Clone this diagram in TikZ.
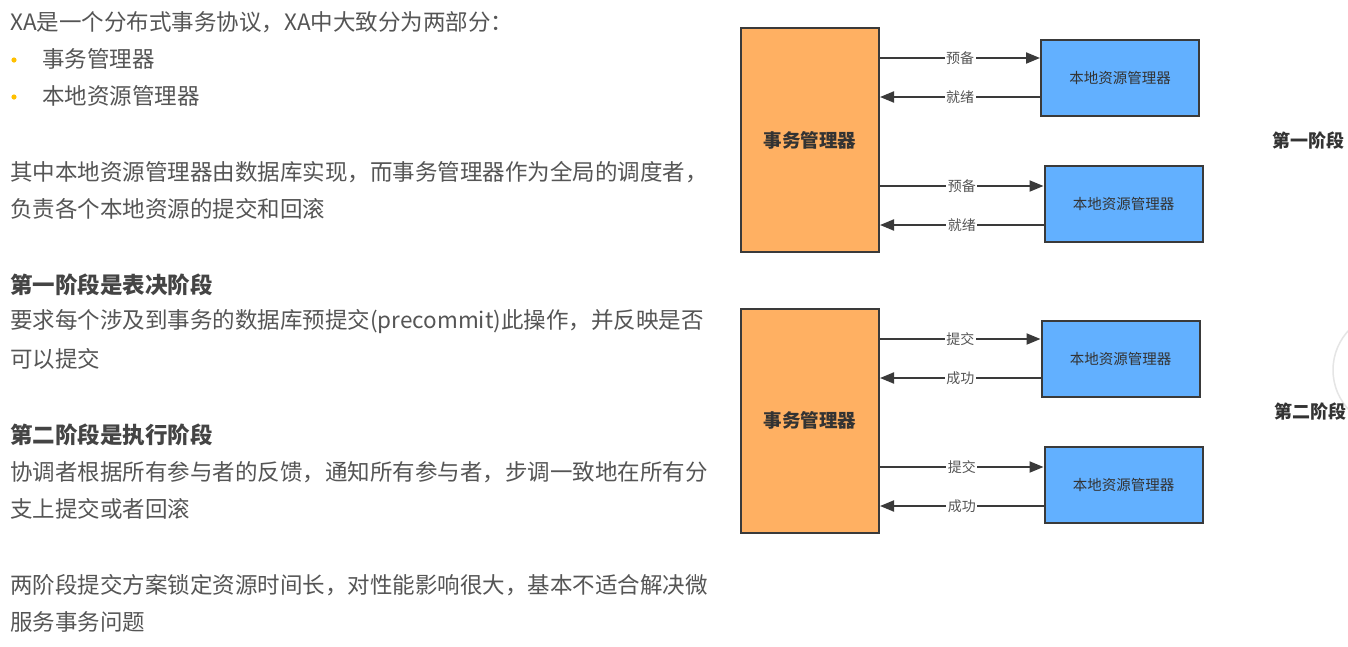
\documentclass[tikz,border=0pt]{standalone}
\usepackage{fontspec}
\setmainfont{Noto Sans CJK SC}
\usetikzlibrary{arrows.meta, positioning}
\definecolor{xatext}{RGB}{85,85,85}
\definecolor{xahead}{RGB}{68,68,68}
\definecolor{xadark}{RGB}{51,51,51}
\definecolor{xaborder}{RGB}{58,58,58}
\definecolor{xaorange}{RGB}{255,176,98}
\definecolor{xablue}{RGB}{98,176,255}
\definecolor{xabullet}{RGB}{255,192,0}
\tikzset{
  xaline/.style={anchor=west, inner sep=0pt, text=xatext,
                 font=\fontsize{22.5}{26}\selectfont},
  xahead/.style={xaline, text=xahead, font=\fontsize{22.5}{26}\selectfont\bfseries},
  tmbox/.style={rectangle, draw=xaborder, line width=2pt, fill=xaorange,
                minimum width=138pt, minimum height=224pt, text=xadark,
                font=\fontsize{18.5}{22}\selectfont\bfseries},
  rmbox/.style={rectangle, draw=xaborder, line width=2pt, fill=xablue,
                minimum width=158pt, minimum height=76pt, text=xadark,
                font=\fontsize{14.5}{17}\selectfont},
  msgarrow/.style={-{Triangle[length=14pt,width=11pt]}, line width=2pt, draw=xaborder},
  msglabel/.style={fill=white, inner sep=1.5pt, text=xatext,
                   font=\fontsize{14}{16}\selectfont},
  phase/.style={anchor=west, inner sep=0pt, text=xadark,
                font=\fontsize{18}{22}\selectfont\bfseries},
}
\begin{document}
\begin{tikzpicture}[x=1pt, y=-1pt]
  \useasboundingbox[fill=white] (0,0) rectangle (1348,646);

  \node[xaline] (t1) at (10,22) {XA是一个分布式事务协议，XA中大致分为两部分：};
  \fill[xabullet] (14,60) circle (2.6pt);
  \node[xaline] (b1) at (42,59) {事务管理器};
  \fill[xabullet] (14,97) circle (2.6pt);
  \node[xaline] (b2) at (42,96) {本地资源管理器};
  \node[xaline] (t2) at (10,172) {其中本地资源管理器由数据库实现，而事务管理器作为全局的调度者，};
  \node[xaline] (t3) at (10,209) {负责各个本地资源的提交和回滚};
  \node[xahead] (h1) at (10,285) {第一阶段是表决阶段};
  \node[xaline] (t4) at (10,322) {要求每个涉及到事务的数据库预提交(precommit)此操作，并反映是否};
  \node[xaline] (t5) at (10,359) {可以提交};
  \node[xahead] (h2) at (10,435) {第二阶段是执行阶段};
  \node[xaline] (t6) at (10,472) {协调者根据所有参与者的反馈，通知所有参与者，步调一致地在所有分};
  \node[xaline] (t7) at (10,509) {支上提交或者回滚};
  \node[xaline] (t8) at (10,585) {两阶段提交方案锁定资源时间长，对性能影响很大，基本不适合解决微};
  \node[xaline] (t9) at (10,622) {服务事务问题};

  \node[tmbox] (tm1) at (810,140) {事务管理器};
  \node[rmbox] (rm1) at (1120,78) {本地资源管理器};
  \node[rmbox] (rm2) at (1123.5,204) {本地资源管理器};
  \draw[msgarrow] (tm1.east |- 0,58) -- (rm1.west |- 0,58) node[msglabel, midway] {预备};
  \draw[msgarrow] (rm1.west |- 0,97) -- (tm1.east |- 0,97) node[msglabel, midway] {就绪};
  \draw[msgarrow] (tm1.east |- 0,186) -- (rm2.west |- 0,186) node[msglabel, midway] {预备};
  \draw[msgarrow] (rm2.west |- 0,225) -- (tm1.east |- 0,225) node[msglabel, midway] {就绪};

  \node[tmbox] (tm2) at (810,420.5) {事务管理器};
  \node[rmbox] (rm3) at (1120.5,358.5) {本地资源管理器};
  \node[rmbox] (rm4) at (1123.5,485) {本地资源管理器};
  \draw[msgarrow] (tm2.east |- 0,339) -- (rm3.west |- 0,339) node[msglabel, midway] {提交};
  \draw[msgarrow] (rm3.west |- 0,378) -- (tm2.east |- 0,378) node[msglabel, midway] {成功};
  \draw[msgarrow] (tm2.east |- 0,467) -- (rm4.west |- 0,467) node[msglabel, midway] {提交};
  \draw[msgarrow] (rm4.west |- 0,506) -- (tm2.east |- 0,506) node[msglabel, midway] {成功};

  \draw[black!10, fill=white, line width=1.5pt] (1391,370) circle (58pt);
  \node[phase] (p1) at (1272,141) {第一阶段};
  \node[phase] (p2) at (1274,412) {第二阶段};
\end{tikzpicture}
\end{document}
